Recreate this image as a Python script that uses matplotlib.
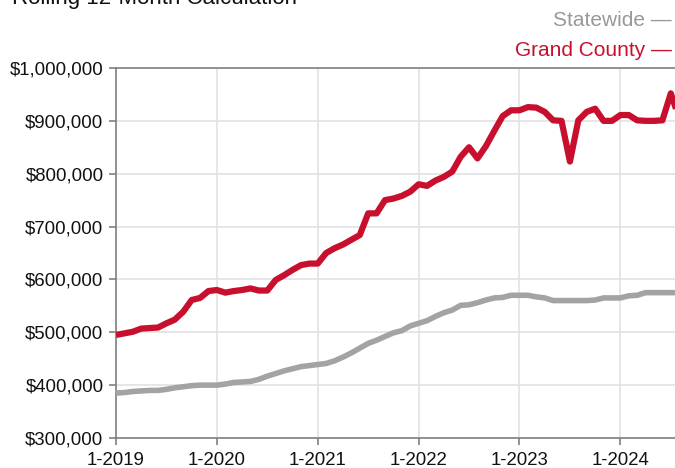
import numpy as np
import matplotlib
matplotlib.use('Agg')
from matplotlib import pyplot as plt
from matplotlib.ticker import FuncFormatter

plt.rcParams['font.family'] = ['Liberation Sans', 'DejaVu Sans']

# Months since 1-2019
months = np.arange(0, 68)

grand_county = [495, 498, 501, 507, 508, 509, 517, 524, 539, 561,
                565, 578, 580, 575, 578, 580, 583, 579, 579, 599,
                608, 618, 627, 630, 630, 650, 659, 666, 675, 684,
                725, 725, 750, 753, 758, 766, 780, 777, 787, 794,
                804, 832, 850, 829, 852, 881, 909, 920, 920, 926,
                925, 917, 901, 900, 823, 901, 917, 923, 900, 900,
                911, 911, 901, 900, 900, 901, 952, 905]

statewide = [385, 386, 388, 389, 390, 390, 392, 395, 397, 399,
             400, 400, 400, 402, 405, 406, 407, 411, 417, 422,
             427, 431, 435, 437, 439, 441, 446, 453, 461, 470,
             479, 485, 492, 499, 503, 512, 517, 522, 530, 537,
             542, 551, 552, 556, 561, 565, 566, 570, 570, 570,
             567, 565, 560, 560, 560, 560, 560, 561, 565, 565,
             565, 569, 570, 575, 575, 575, 575, 575]

year_labels = ['1-2019', '1-2020', '1-2021', '1-2022', '1-2023', '1-2024']

red = '#c8102e'
grey = '#a3a3a3'

fig = plt.figure(figsize=(6.75, 4.68), dpi=100)
ax = fig.add_axes([116/675, 1-438/468, 1-116/675, 370/468])

ax.plot(months, np.array(statewide)*1000, color=grey, lw=4.0,
        solid_joinstyle='round', solid_capstyle='butt', zorder=3)
ax.plot(months, np.array(grand_county)*1000, color=red, lw=4.5,
        solid_joinstyle='round', solid_capstyle='butt', zorder=4)

ax.set_xlim(0, 66.5)
ax.set_ylim(300000, 1000000)
ax.set_xticks(np.arange(0, 72, 12)[:len(year_labels)])
ax.set_xticklabels(year_labels)
ax.set_yticks(np.arange(300000, 1000001, 100000))
ax.yaxis.set_major_formatter(FuncFormatter(lambda v, p: '${:,.0f}'.format(v)))

ax.grid(True, color='#e2e2e2', lw=1.2, zorder=0)
ax.set_axisbelow(True)
for s in ['left', 'bottom', 'top']:
    ax.spines[s].set_color('#808080')
    ax.spines[s].set_linewidth(1.2)
ax.spines['right'].set_visible(False)
ax.tick_params(axis='both', colors='#808080', length=5, width=1.2,
               labelsize=13.4, labelcolor='#111111')
ax.tick_params(axis='y', pad=4)
ax.tick_params(axis='x', pad=5)

fig.text(12/675, 1-4/468, 'Rolling 12-Month Calculation', fontsize=16,
         color='#111111', ha='left', va='baseline')
fig.text(672/675, 1-20/468, 'Statewide \u2014', fontsize=15, color='#999999',
         ha='right', va='center')
fig.text(672/675, 1-50/468, 'Grand County \u2014', fontsize=15, color=red,
         ha='right', va='center')

plt.savefig('out.png', dpi=100)
